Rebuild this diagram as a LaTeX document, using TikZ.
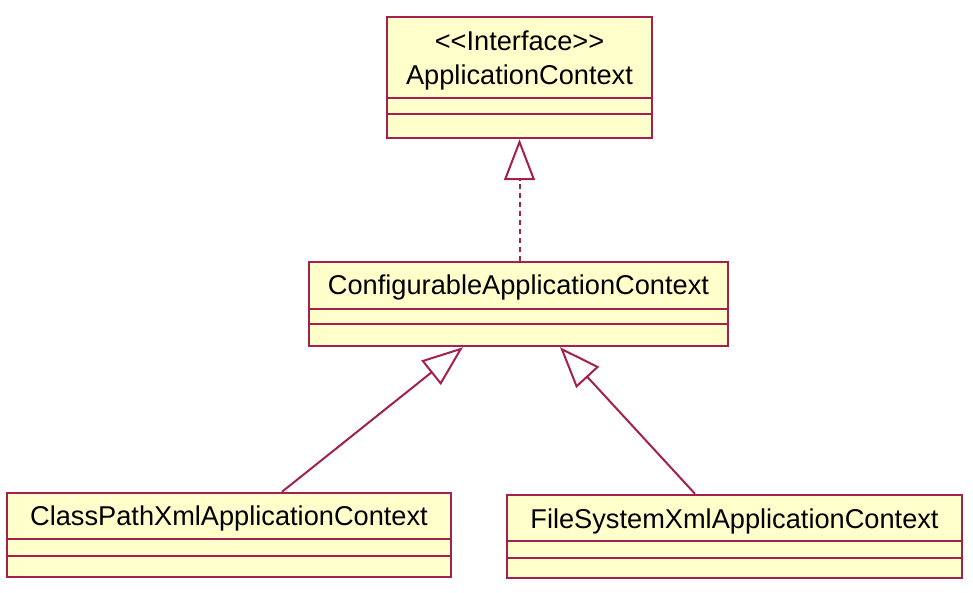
\documentclass[tikz,border=0pt]{standalone}
\usepackage{fontspec}
\setmainfont{Liberation Sans}
\usepackage{tikz}
\usetikzlibrary{arrows.meta,positioning}
\definecolor{umlred}{HTML}{A3204F}
\definecolor{umlfill}{HTML}{FFFFCC}
\newcommand{\umlfont}{\fontsize{13.6pt}{17pt}\selectfont}

\begin{document}
\begin{tikzpicture}[
        x=0.5pt, y=-0.5pt,
        classbox/.style={rectangle, draw=umlred, fill=umlfill, line width=1.2pt, inner sep=0pt},
        classname/.style={font=\umlfont, text=black, inner sep=0pt, align=center},
        divider/.style={umlred, line width=1.2pt},
        realize/.style={-{Triangle[open, length=20.5pt, width=15.5pt, fill=white]}, umlred, line width=1pt, dash pattern=on 2.5pt off 2pt},
        inherit/.style={-{Triangle[open, length=20.5pt, width=15.5pt, fill=white]}, umlred, line width=1pt}
    ]
        \fill[white] (0,0) rectangle (973,593);
        \useasboundingbox (0,0) rectangle (973,593);

        % class boxes
        \node[classbox, minimum width=132.5pt, minimum height=60.5pt] (ctx) at (519.5,77.5) {};
        \node[classbox, minimum width=209.5pt, minimum height=42pt] (cfg) at (518.5,304) {};
        \node[classbox, minimum width=222pt, minimum height=42pt] (cpx) at (229,535) {};
        \node[classbox, minimum width=227.5pt, minimum height=41.5pt] (fsx) at (734.5,536.5) {};

        % class names
        \node[classname] (ctxname) at (519.5,60) {<\kern0pt<Interface>\kern0pt>\\ApplicationContext};
        \node[classname] (cfgname) at (518.5,287) {ConfigurableApplicationContext};
        \node[classname] (cpxname) at (229,518) {ClassPathXmlApplicationContext};
        \node[classname] (fsxname) at (734.5,521) {FileSystemXmlApplicationContext};

        % compartments
        \foreach \cls/\hi/\lo in {ctx/20.5pt/12.5pt, cfg/19pt/11.5pt, cpx/19.5pt/11pt, fsx/19pt/10.5pt} {
            \draw[divider] ([yshift=\hi]\cls.south west) -- ([yshift=\hi]\cls.south east);
            \draw[divider] ([yshift=\lo]\cls.south west) -- ([yshift=\lo]\cls.south east);
        }

        % relations
        \draw[realize] ([xshift=0.5pt]cfg.north) -- (ctx.south);
        \draw[inherit] ([xshift=26.5pt]cpx.north) -- ([xshift=-27.75pt]cfg.south);
        \draw[inherit] ([xshift=-19.75pt]fsx.north) -- ([xshift=20.75pt]cfg.south);
    \end{tikzpicture}
\end{document}
